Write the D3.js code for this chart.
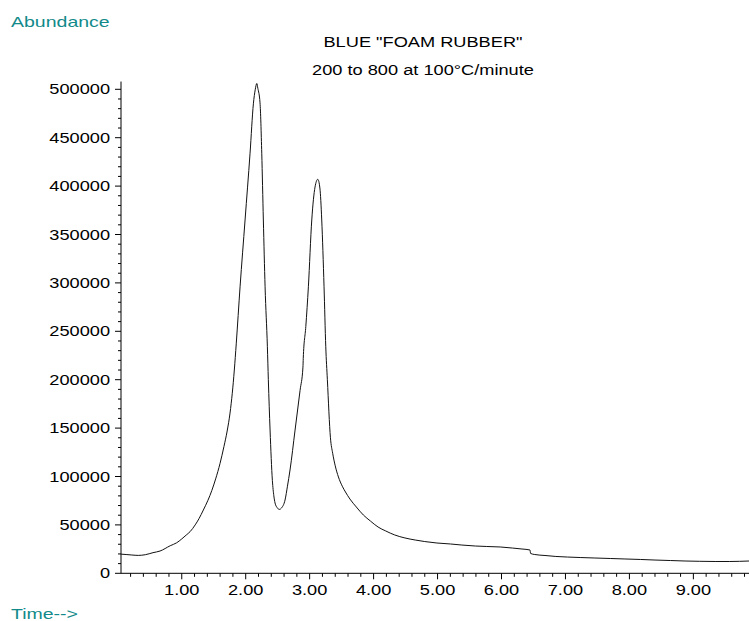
<!DOCTYPE html>
<html>
<head>
<meta charset="utf-8">
<script src="https://cdn.jsdelivr.net/npm/d3@7"></script>
<style>
  body { margin: 0; background: #fff; }
  svg { display: block; }
  text { font-family: "Liberation Sans", Arial, sans-serif; }
</style>
</head>
<body>
<div id="chart"></div>
<script>
// Retention time (minutes) and abundance
const times = [
    0.05, 0.13, 0.22, 0.32, 0.43, 0.55, 0.66, 0.82, 0.92, 1.00,
    1.07, 1.13, 1.21, 1.27, 1.338, 1.41, 1.47, 1.53, 1.599, 1.66,
    1.71, 1.755, 1.79, 1.822, 1.852, 1.912, 1.990, 2.068, 2.120, 2.150,
    2.173, 2.19, 2.224, 2.251, 2.276, 2.303, 2.339, 2.354, 2.381, 2.417,
    2.44, 2.459, 2.49, 2.526, 2.56, 2.615, 2.653, 2.693, 2.772, 2.850,
    2.895, 2.900, 2.94, 2.980, 3.033, 3.084, 3.127, 3.16, 3.189, 3.225,
    3.252, 3.277, 3.325, 3.36, 3.40, 3.45, 3.51, 3.56, 3.63,
    3.73, 3.84, 3.95, 4.07, 4.19, 4.33, 4.49, 4.65, 4.80, 4.99,
    5.20, 5.38, 5.59, 5.77, 5.98, 6.17, 6.32, 6.445, 6.455, 6.52,
    6.68, 6.85, 7.03, 7.23, 7.46, 7.70, 7.93, 8.17, 8.40, 8.64,
    8.87, 9.10, 9.34, 9.57, 9.87
];
const abundance = [
    19800, 19400, 18900, 18500, 19200, 21300, 23000, 28500, 31500, 35500,
    39500, 43000, 50000, 56500, 65400, 75500, 85500, 97500, 113600, 131000,
    147000, 165600, 186000, 210000, 237000, 296000, 365000, 434000, 485000, 500000,
    506000, 501000, 486000, 434000, 365000, 296000, 234000, 200000, 148000, 96000,
    80000, 72600, 68000, 66000, 67500, 75700, 90000, 106700, 148000, 189000,
    213000, 222000, 255000, 296000, 365000, 399000, 407000, 398000, 365000, 296000,
    234000, 200000, 140000, 124000, 111000, 99500, 90000, 84000, 76700,
    68500, 60200, 54000, 47800, 43700, 39600, 36500, 34400, 32800, 31300,
    30300, 29200, 28200, 27700, 27200, 26100, 25100, 24100, 20500, 19400,
    18400, 17400, 16800, 16300, 15800, 15300, 14800, 14300, 13700, 13200,
    12700, 12400, 12200, 12200, 12700
];
const yTicks = [0, 50000, 100000, 150000, 200000, 250000, 300000, 350000, 400000, 450000, 500000];
const xTicks = [1, 2, 3, 4, 5, 6, 7, 8, 9];
const titleLines = ['BLUE "FOAM RUBBER"', '200 to 800 at 100\u00B0C/minute'];

const width = 749, height = 621;
const teal = '#128a8a';
const stretchX = 1.3;   // the chart's lettering is wide, so stretch it

let svg = d3.select('#chart').append('svg')
    .attr('width', width)
    .attr('height', height);

let x = d3.scaleLinear().domain([0.05, 9.87]).range([121, 749]);
let y = d3.scaleLinear().domain([0, 500000]).range([573.3, 89.3]);

// Widen text to match the original font
function stretch(sel) {
    sel.each(function() {
        let w = this.getComputedTextLength();
        d3.select(this)
            .attr('textLength', w * stretchX)
            .attr('lengthAdjust', 'spacingAndGlyphs');
    });
}

// Y axis: major ticks every 50000, minor every 10000
let yAxis = svg.append('g').attr('transform', 'translate(121,0)');
yAxis.append('line')
    .attr('x1', 0).attr('x2', 0)
    .attr('y1', y(0)).attr('y2', y(508000))
    .attr('stroke', '#000');
yAxis.selectAll('.minor')
    .data(d3.range(0, 510000, 10000))
    .enter().append('line')
    .attr('x1', d => d % 50000 === 0 ? -6 : -3)
    .attr('x2', 0)
    .attr('y1', d => y(d)).attr('y2', d => y(d))
    .attr('stroke', '#000');
yAxis.selectAll('text')
    .data(yTicks)
    .enter().append('text')
    .attr('x', -11)
    .attr('y', d => y(d))
    .attr('dy', '0.36em')
    .attr('text-anchor', 'end')
    .attr('font-size', '14px')
    .attr('fill', '#000')
    .text(d => d)
    .call(stretch);

// X axis: major ticks every minute, minor every 0.2
let xAxis = svg.append('g').attr('transform', 'translate(0,' + y(0) + ')');
xAxis.append('line')
    .attr('x1', x(0.05)).attr('x2', width)
    .attr('y1', 0).attr('y2', 0)
    .attr('stroke', '#000');
xAxis.selectAll('.minor')
    .data(d3.range(1, 50).map(i => i * 0.2))
    .enter().append('line')
    .attr('x1', d => x(d)).attr('x2', d => x(d))
    .attr('y1', 0)
    .attr('y2', (d, i) => (i + 1) % 5 === 0 ? 6 : 3.5)
    .attr('stroke', '#000');
xAxis.selectAll('text')
    .data(xTicks)
    .enter().append('text')
    .attr('x', d => x(d))
    .attr('y', 22)
    .attr('text-anchor', 'middle')
    .attr('font-size', '14px')
    .attr('fill', '#000')
    .text(d => d.toFixed(2))
    .call(stretch);

// Trace
let points = times.map((t, i) => [t, abundance[i]]);
let line = d3.line()
    .curve(d3.curveMonotoneX)
    .x(d => x(d[0]))
    .y(d => y(d[1]));
svg.append('path')
    .datum(points)
    .attr('d', line)
    .attr('fill', 'none')
    .attr('stroke', '#111')
    .attr('stroke-width', 1);

// Titles and axis captions
svg.selectAll('.title')
    .data(titleLines)
    .enter().append('text')
    .attr('class', 'title')
    .attr('x', 423)
    .attr('y', (d, i) => 46.5 + i * 28)
    .attr('text-anchor', 'middle')
    .attr('font-size', '14px')
    .attr('fill', '#000')
    .text(d => d)
    .call(stretch);

svg.append('text')
    .attr('x', 11).attr('y', 26.5)
    .attr('font-size', '15px')
    .attr('fill', teal)
    .text('Abundance')
    .call(stretch);

svg.append('text')
    .attr('x', 11).attr('y', 619)
    .attr('font-size', '15px')
    .attr('fill', teal)
    .text('Time-->')
    .call(stretch);
</script>
</body>
</html>
